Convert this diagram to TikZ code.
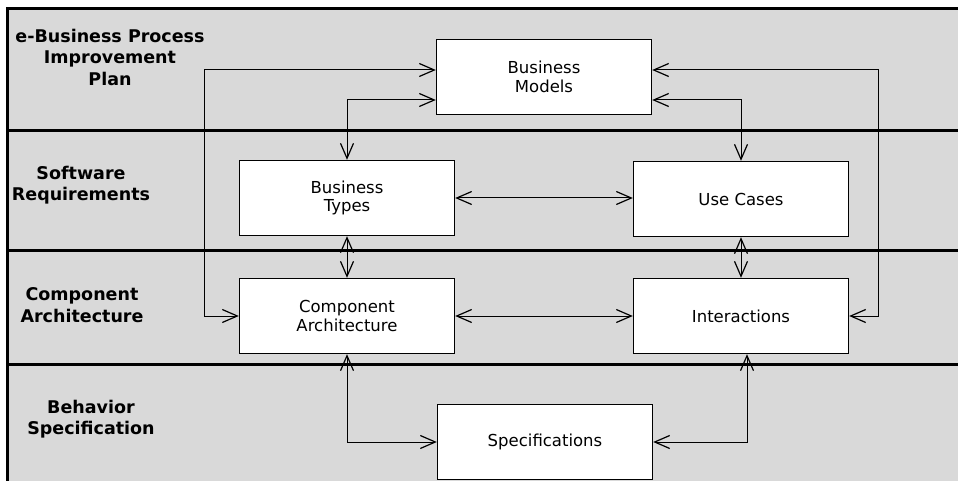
\documentclass[tikz,border=0pt]{standalone}
\usepackage{fontspec}
\setmainfont{DejaVu Sans}
\usetikzlibrary{positioning,arrows.meta}
\definecolor{lanegray}{gray}{0.85}

\begin{document}
\begin{tikzpicture}[x=1pt, y=-1pt,
        box/.style={draw, line width=1.4pt, fill=white, minimum width=215pt, minimum height=75pt, align=center, font=\fontsize{16.5}{18.5}\selectfont},
        lanelabel/.style={align=center, font=\bfseries\fontsize{17.5}{21.5}\selectfont},
        link/.style={line width=1pt, {Straight Barb[length=15pt,width=13pt,line width=1.2pt]}-{Straight Barb[length=15pt,width=13pt,line width=1.2pt]}}]
        \useasboundingbox (0,0) rectangle (958,481);
        % Lanes
        \fill[lanegray] (7,9) rectangle (958,481);
        \foreach \y in {131,250,364} {
            \draw[line width=3pt] (7,\y) -- (958,\y);
        }
        \draw[line width=3pt] (958,9) -- (7,9) -- (7,481);
        \node (p1) at (110,57) [lanelabel] {e-Business Process\\Improvement\\Plan};
        \node (p2) at (81,185) [lanelabel] {Software\\Requirements};
        \node (p3) at (82,305) [lanelabel] {Component\\Architecture};
        \node (p4) at (91,419) [lanelabel] {Behavior\\Specification};
        % Nodes
        \node (bm) at (544,77) [box] {Business\\Models};
        \node (bt) at (347,198) [box] {Business\\Types};
        \node (uc) at (741,199) [box] {Use Cases};
        \node (ca) at (347,316) [box] {Component\\Architecture};
        \node (ia) at (741,316) [box] {Interactions};
        \node (sp) at (545,442) [box] {Specifications};
        % Bends
        \coordinate (k1) at (204,70);
        \coordinate (k2) at (347,100);
        \coordinate (k3) at (878,70);
        \coordinate (k4) at (741,100);
        % Edges
        \draw[link] (k1 -| bm.west) -- (k1) |- (ca.west);
        \draw[link] (k2 -| bm.west) -- (k2) -- (bt.north);
        \draw[link] (k3 -| bm.east) -- (k3) |- (ia.east);
        \draw[link] (k4 -| bm.east) -- (k4) -- (uc.north);
        \draw[link] (bt.east) -- (bt.east -| uc.west);
        \draw[link] (ca.east) -- (ca.east -| ia.west);
        \draw[link] (bt.south) -- (ca.north);
        \draw[link] (uc.south) -- (ia.north);
        \draw[link] (ca.south) |- (sp.west);
        \draw[link] ([xshift=6pt]ia.south) |- (sp.east);
    \end{tikzpicture}
\end{document}
